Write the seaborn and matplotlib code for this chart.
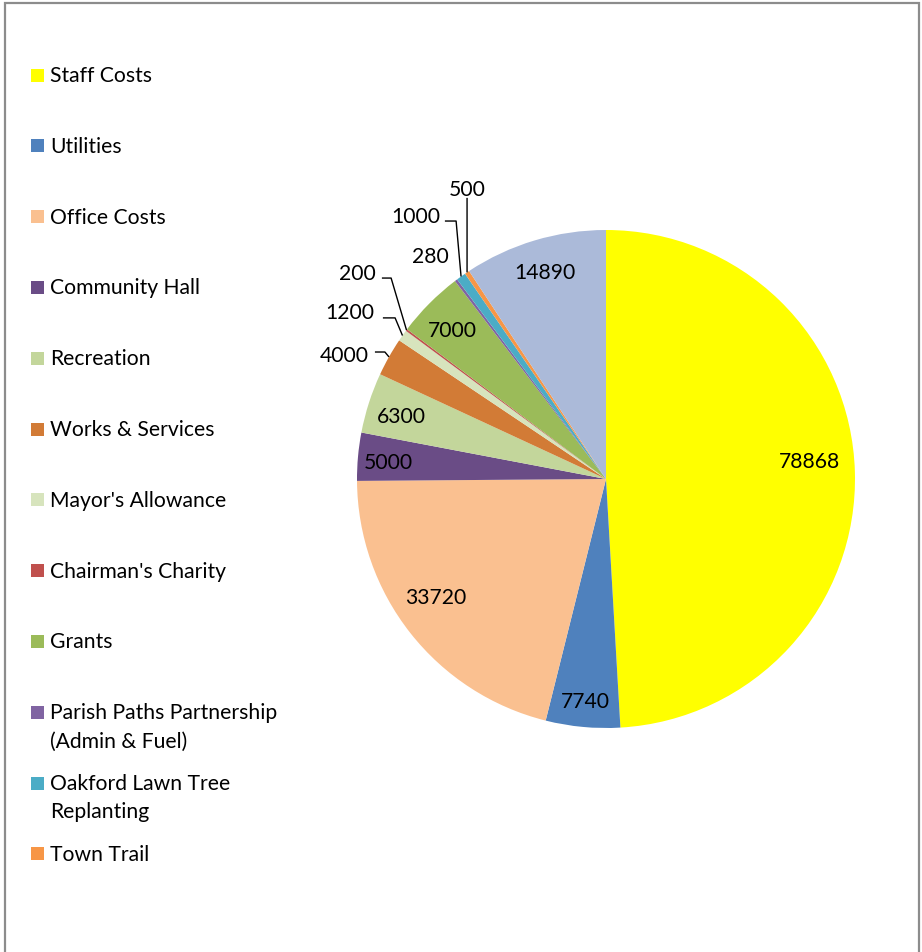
import numpy as np
import matplotlib
matplotlib.use("Agg")
import matplotlib.pyplot as plt
import seaborn as sns
from matplotlib.patches import Rectangle

# ---- data ----
categories = ["Staff Costs", "Utilities", "Office Costs", "Community Hall", "Recreation",
              "Works & Services", "Mayor's Allowance", "Chairman's Charity", "Grants",
              "Parish Paths Partnership\n(Admin & Fuel)", "Oakford Lawn Tree\nReplanting",
              "Town Trail", "Other"]
values = [78868, 7740, 33720, 5000, 6300, 4000, 1200, 200, 7000, 280, 1000, 500, 14890]
legend_count = 12  # the last slice is not listed in the legend
colors = ["#FFFF00", "#4F81BD", "#FAC090", "#6A4C86", "#C3D69B", "#D27B36", "#D7E4BD",
          "#C0504D", "#9BBB59", "#8064A2", "#4BACC6", "#F79646", "#ABBAD9"]

sns.set_theme(style="white")
plt.rcParams['font.family'] = ['Lato', 'DejaVu Sans']

W, H = 922, 953
fig = plt.figure(figsize=(W / 100, H / 100), dpi=100)
fig.patch.set_facecolor("white")

# axes so that pie center is at (606,480) px with radius 249 px
R = 249.0
cx, cy = 606.0, 480.0
xl, xr, yb, yt = -1.3, 1.25, -1.3, 1.3
left = (cx + xl * R) / W
bottom = (H - cy + yb * R) / H
ax = fig.add_axes([left, bottom, (xr - xl) * R / W, (yt - yb) * R / H])

palette = sns.color_palette(colors)
wedges, _ = ax.pie(values, colors=palette, startangle=90, counterclock=False,
                   radius=1.0, wedgeprops=dict(linewidth=0))
ax.set_xlim(xl, xr)
ax.set_ylim(yb, yt)
ax.set_aspect("equal")
ax.axis("off")

fs = 15.2
# inside label placement (style): (distance, angle shift in degrees)
inside_pos = {0: (0.82, 3.4), 1: (0.895, 0.0), 2: (0.833, -3.5), 3: (0.875, 0.6),
              4: (0.858, 0.8), 8: (0.86, 0.6), 12: (0.868, -0.2)}
# outside labels: text centre and leader start/elbow, in radius units (style)
outside = {
    5: dict(text=(-1.052, 0.498), lead=[(-0.928, 0.510), (-0.888, 0.510)]),
    6: dict(text=(-1.028, 0.671), lead=[(-0.896, 0.647), (-0.847, 0.647)]),
    7: dict(text=(-1.000, 0.827), lead=[(-0.900, 0.807), (-0.863, 0.807)]),
    9: dict(text=(-0.707, 0.896), lead=None),
    10: dict(text=(-0.763, 1.056), lead=[(-0.647, 1.036), (-0.602, 1.036)]),
    11: dict(text=(-0.558, 1.165), lead=[(-0.558, 1.129)]),
}

for i, w in enumerate(wedges):
    mid_deg = (w.theta1 + w.theta2) / 2.0
    mid = np.deg2rad(mid_deg)
    ex, ey = np.cos(mid), np.sin(mid)
    label = str(values[i])
    if i in inside_pos:
        d, shift = inside_pos[i]
        a = np.deg2rad(mid_deg + shift)
        ax.text(d * np.cos(a), d * np.sin(a), label, ha="center", va="center",
                fontsize=fs, color="black")
    else:
        o = outside[i]
        ax.text(o["text"][0], o["text"][1], label, ha="center", va="center",
                fontsize=fs, color="black")
        if o["lead"]:
            pts = o["lead"] + [(ex, ey)]
            ax.plot([p[0] for p in pts], [p[1] for p in pts], color="black", lw=1.0,
                    solid_capstyle="butt")

# ---- legend (manual) ----
y0, dy = 76.0, 70.8
for i in range(legend_count):
    yc = y0 + i * dy
    fig.patches.append(Rectangle((31 / W, 1 - (yc + 6.5) / H), 13 / W, 13 / H,
                                 transform=fig.transFigure, facecolor=colors[i],
                                 edgecolor="none"))
    for j, line in enumerate(categories[i].split("\n")):
        fig.text(50 / W, 1 - (yc + j * 28.5) / H, line, ha="left", va="center",
                 fontsize=fs, color="black")

# ---- chart border ----
fig.patches.append(Rectangle((5 / W, -0.05), (919 - 5) / W, 1.05 - 4 / H,
                             transform=fig.transFigure, facecolor="none",
                             edgecolor="#8C8C8C", linewidth=1.6))

fig.savefig("out.png", dpi=100, facecolor="white")
